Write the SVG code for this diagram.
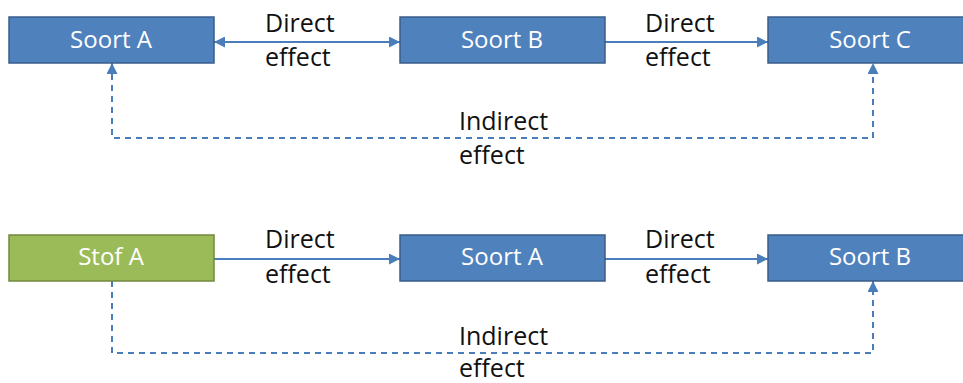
<svg xmlns="http://www.w3.org/2000/svg" width="963" height="383" viewBox="0 0 963 383">
<style>
.box{stroke-width:1.5}
.blue{fill:#4F81BD;stroke:#385D8A}
.green{fill:#9BBB59;stroke:#71893F}
.nt{font-family:"Open Sans","Noto Sans",sans-serif;font-size:24px;fill:#FFFFFF;text-anchor:middle}
.lb{font-family:"Open Sans","Noto Sans",sans-serif;font-size:25px;fill:#111111}
.c{fill:none;stroke:#4A7EBB;stroke-width:2}
.d{stroke-dasharray:6 5}
</style>
<defs>
<marker id="ah" viewBox="0 0 10 10" refX="10" refY="5" markerWidth="5.5" markerHeight="5.5" orient="auto-start-reverse" markerUnits="strokeWidth">
<path d="M0,0 L10,5 L0,10 Z" fill="#4A7EBB"/>
</marker>
</defs>
<rect width="963" height="383" fill="#FFFFFF"/>
<g id="connectors">
<line class="c" x1="214" y1="42" x2="400" y2="42" marker-start="url(#ah)" marker-end="url(#ah)"/>
<line class="c" x1="605" y1="42" x2="768" y2="42" marker-end="url(#ah)"/>
<polyline class="c d" points="112,63 112,138 873,138 873,63" marker-start="url(#ah)" marker-end="url(#ah)"/>
<line class="c" x1="214" y1="259" x2="400" y2="259" marker-end="url(#ah)"/>
<line class="c" x1="605" y1="259" x2="768" y2="259" marker-end="url(#ah)"/>
<polyline class="c d" points="112,281 112,353 873,353 873,281" marker-end="url(#ah)"/>
<text class="lb" x="265" y="32">Direct</text>
<text class="lb" x="265" y="66">effect</text>
<text class="lb" x="645" y="32">Direct</text>
<text class="lb" x="645" y="66">effect</text>
<text class="lb" x="459" y="130">Indirect</text>
<text class="lb" x="459" y="164">effect</text>
<text class="lb" x="265" y="248">Direct</text>
<text class="lb" x="265" y="283">effect</text>
<text class="lb" x="645" y="248">Direct</text>
<text class="lb" x="645" y="283">effect</text>
<text class="lb" x="459" y="345">Indirect</text>
<text class="lb" x="459" y="377">effect</text>
</g>
<g id="n1"><rect class="box blue" x="9" y="17" width="205" height="46"/><text class="nt" x="111" y="48">Soort A</text></g>
<g id="n2"><rect class="box blue" x="400" y="17" width="205" height="46"/><text class="nt" x="502" y="48">Soort B</text></g>
<g id="n3"><rect class="box blue" x="768" y="17" width="205" height="46"/><text class="nt" x="870" y="48">Soort C</text></g>
<g id="n4"><rect class="box green" x="9" y="235" width="205" height="46"/><text class="nt" x="111" y="265">Stof A</text></g>
<g id="n5"><rect class="box blue" x="400" y="235" width="205" height="46"/><text class="nt" x="502" y="265">Soort A</text></g>
<g id="n6"><rect class="box blue" x="768" y="235" width="205" height="46"/><text class="nt" x="870" y="265">Soort B</text></g>
</svg>
